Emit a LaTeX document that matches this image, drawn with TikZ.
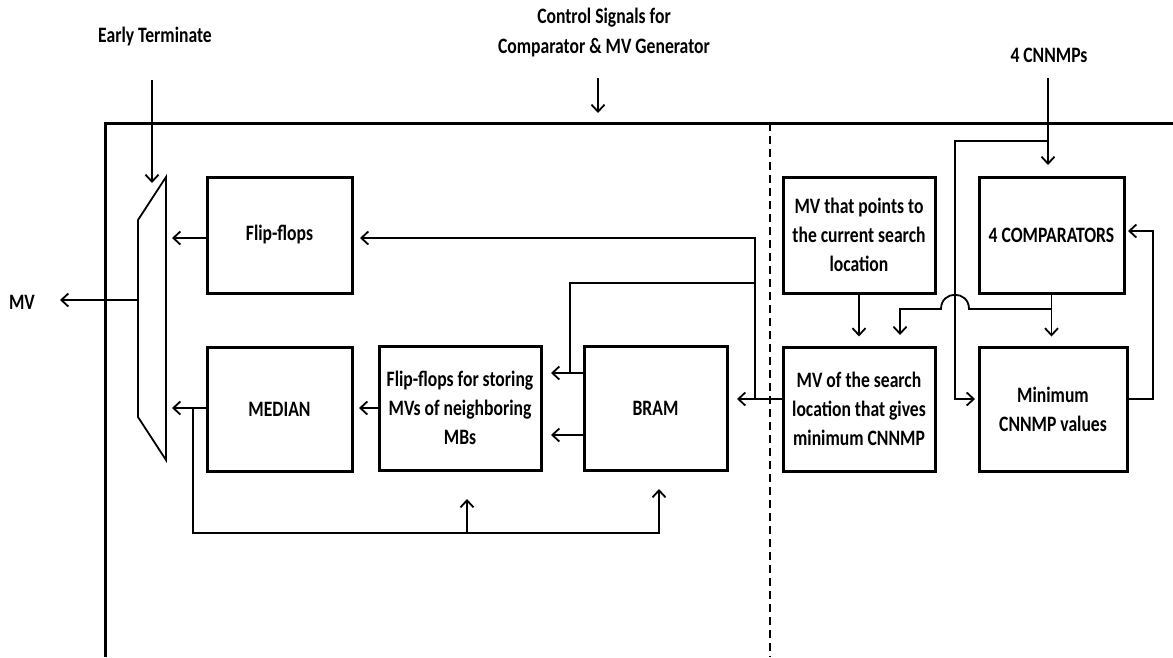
\documentclass[tikz,border=0pt]{standalone}
\usepackage{fontspec}
\setmainfont{Carlito}[FakeStretch=0.8]
\usetikzlibrary{arrows.meta}

\begin{document}
\begin{tikzpicture}[x=1pt,y=-1pt,
		box/.style={draw, line width=3pt, align=center, inner sep=2pt, font=\bfseries\fontsize{22}{29}\selectfont},
		lbl/.style={align=center, font=\bfseries\fontsize{22}{30}\selectfont},
		wire/.style={line width=1.8pt},
		arr/.style={wire, -{Straight Barb[length=7pt,width=13pt,line width=1.8pt]}}]
			\useasboundingbox (0,0) rectangle (1173,657);
			%\draw[step=100pt,color=gray] (0,0) grid (1173,657);
			\draw[line width=3pt] (105,657) -- (105,123) -- (1173,123);
			\draw[wire, dash pattern=on 8pt off 5pt] (770,123) -- (770,657);
			% multiplexer
			\draw[wire] (166,177) -- (138,220) -- (138,417) -- (166,460) -- cycle;
			\coordinate (muxout) at (138,300);
			% labels
			\node[lbl] (et) at (155,37) {Early Terminate};
			\node[lbl] (ctl) at (604,33) {Control Signals for\\Comparator \& MV Generator};
			\node[lbl] (cnn) at (1049,55) {4 CNNMPs};
			\node[lbl] (mv) at (22,302) {MV};
			\coordinate (etin) at (152,80);
			\coordinate (ctlin) at (598,78);
			\coordinate (cnnin) at (1048,78);
			% blocks
			\node[box, minimum width=145pt, minimum height=116pt] (ff) at (279.5,235) {Flip-flops};
			\node[box, minimum width=145pt, minimum height=124pt] (med) at (279.5,409) {MEDIAN};
			\node[box, minimum width=162pt, minimum height=124pt] (ffs) at (460,408) {Flip-flops for storing\\MVs of neighboring\\MBs};
			\node[box, minimum width=143pt, minimum height=124pt] (bram) at (655.5,408) {BRAM};
			\node[box, minimum width=152pt, minimum height=116pt] (mvp) at (859,235) {MV that points to\\the current search\\location};
			\node[box, minimum width=145pt, minimum height=116pt] (comp) at (1051.5,235) {4 COMPARATORS};
			\node[box, minimum width=152pt, minimum height=124pt] (mvs) at (859,409) {MV of the search\\location that gives\\minimum CNNMP};
			\node[box, minimum width=148pt, minimum height=124pt] (minc) at (1053,409) {Minimum\\CNNMP values};
			% inputs
			\draw[arr] (etin) -- (152,183);
			\draw[arr] (ctlin) -- (598,113);
			\draw[arr] (cnnin) -- (1048,165);
			\draw[arr] (1048,141) -- (955,141) -- (955,399) -- (975,399);
			% right half
			\draw[arr] (mvp.south) -- ++(0,42);
			\draw[arr] (comp.south) -- ++(0,42);
			\draw[arr] (1051.5,309) -- (969,309) .. controls (969,290) and (941,290) .. (941,309) -- (900,309) -- (900,335);
			\draw[arr] (minc.east |- 0,399) -- (1153,399) -- (1153,231) -- (1128,231);
			% left half
			\draw[arr] (mvs.west |- 0,399) -- (737,399);
			\draw[arr] (755,399) -- (755,238) -- (360,238);
			\draw[wire] (755,283) -- (570,283) -- (570,373);
			\draw[arr] (bram.west |- 0,373) -- (551,373);
			\draw[arr] (bram.west |- 0,435) -- (551,435);
			\draw[arr] (ffs.west) -- (359,408);
			\draw[arr] (med.west |- 0,408) -- (172,408);
			\draw[arr] (ff.west |- 0,238) -- (172,238);
			\draw[arr] (193,408) -- (193,533) -- (659,533) -- (659,489);
			\draw[arr] (467,533) -- (467,499);
			\draw[arr] (muxout) -- (60,300);
	\end{tikzpicture}
\end{document}
